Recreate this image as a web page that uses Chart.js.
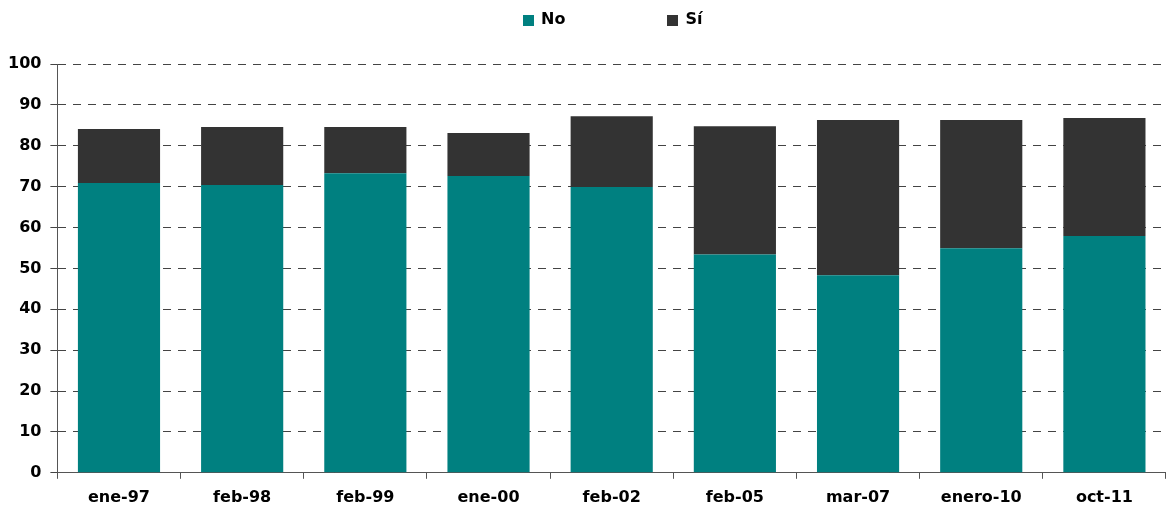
<!DOCTYPE html>
<html>
<head>
<meta charset="utf-8">
<script src="https://cdn.jsdelivr.net/npm/chart.js@4"></script>
<style>
  html, body { margin: 0; padding: 0; background: #fff; }
  #wrap { position: relative; width: 1166px; height: 512px; }
  #leyenda {
    position: absolute; left: 523px; top: 9px;
    font: bold 16px "DejaVu Sans", sans-serif; color: #000;
    display: flex; align-items: center;
  }
  #leyenda .item { display: flex; align-items: center; }
  #leyenda .caja { width: 11px; height: 11px; margin-right: 7px; margin-top: 3px; }
</style>
</head>
<body>
<div id="wrap">
  <canvas id="grafica"></canvas>
  <div id="leyenda"></div>
</div>
<script>
  // ==== Datos ====
  const categorias = ['ene-97', 'feb-98', 'feb-99', 'ene-00', 'feb-02', 'feb-05', 'mar-07', 'enero-10', 'oct-11'];
  const valoresNo = [70.9, 70.4, 73.3, 72.6, 69.9, 53.4, 48.3, 54.9, 57.9];
  const valoresSi = [13.2, 14.2, 11.3, 10.5, 17.3, 31.4, 38.0, 31.4, 28.9];
  const series = [
    { nombre: 'No', valores: valoresNo, color: '#008080' },
    { nombre: 'Sí', valores: valoresSi, color: '#333333' }
  ];

  // ==== Leyenda ====
  const leyenda = document.getElementById('leyenda');
  series.forEach((s, i) => {
    const item = document.createElement('div');
    item.className = 'item';
    if (i > 0) item.style.marginLeft = '102px';
    item.innerHTML = `<span class="caja" style="background:${s.color}"></span><span>${s.nombre}</span>`;
    leyenda.appendChild(item);
  });

  // ==== Gráfico ====
  const fuente = { family: '"DejaVu Sans", sans-serif', size: 16, weight: 'bold' };
  const canvas = document.getElementById('grafica');

  new Chart(canvas, {
    type: 'bar',
    data: {
      labels: categorias,
      datasets: series.map(s => ({
        label: s.nombre,
        data: s.valores,
        backgroundColor: s.color,
        borderWidth: 0,
        barPercentage: 0.667,
        categoryPercentage: 1
      }))
    },
    options: {
      responsive: true,
      maintainAspectRatio: false,
      animation: false,
      layout: { padding: { top: 64, left: -1, right: 0, bottom: -4 } },
      plugins: {
        legend: { display: false },
        tooltip: { enabled: false }
      },
      scales: {
        x: {
          stacked: true,
          grid: { drawOnChartArea: false, drawTicks: true, tickLength: 6, tickColor: '#555', offset: true },
          border: { display: true, color: '#555', width: 1 },
          ticks: { color: '#000', font: fuente, padding: 9, maxRotation: 0 }
        },
        y: {
          stacked: true,
          min: 0,
          max: 100,
          grid: { color: '#444', lineWidth: 1, tickLength: 7, tickColor: '#444' },
          border: { display: true, color: '#555', width: 1, dash: [8, 7] },
          ticks: { stepSize: 10, color: '#000', font: fuente, padding: 9 }
        }
      }
    }
  });
</script>
</body>
</html>
